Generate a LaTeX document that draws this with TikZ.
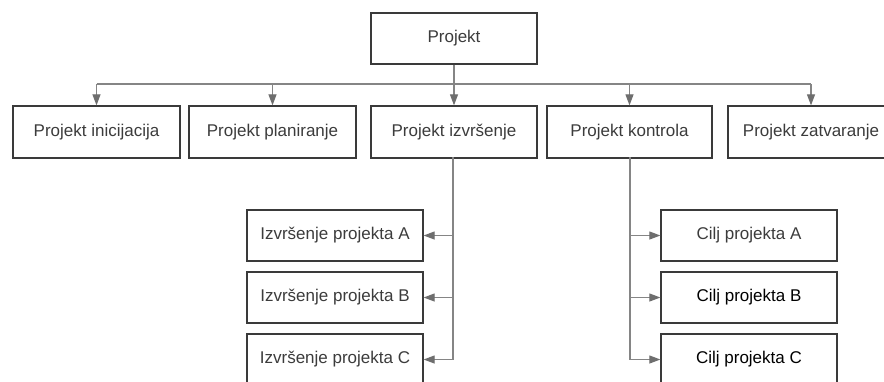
\documentclass[tikz,border=0pt]{standalone}
\usepackage{fontspec}
\setmainfont{Liberation Sans}
\usetikzlibrary{arrows.meta}
\definecolor{boxline}{HTML}{3A3A3A}
\definecolor{txt}{HTML}{3C3C3C}
\definecolor{conn}{HTML}{858585}
\definecolor{tipc}{HTML}{6E6E6E}
\tikzset{
  wbs/.style={draw=boxline, line width=1.3bp, fill=white, text=txt,
    minimum height=51bp, inner sep=0pt,
    font=\fontsize{17bp}{20bp}\selectfont},
  connline/.style={draw=conn, line width=1.1bp},
  connarrow/.style={connline, -{Triangle[length=11bp, width=8bp, fill=tipc, color=tipc]}},
}
\begin{document}
\begin{tikzpicture}[x=1bp, y=-1bp]
\useasboundingbox (0,0) rectangle (884,381);
\clip (0,0) rectangle (884,381);
\fill[white] (0,0) rectangle (884,381);
% top
\node[wbs, minimum width=166bp] (p) at (454,38.5) {Projekt};
% level 1
\node[wbs, minimum width=167bp, minimum height=52bp] (b1) at (96.5,132) {Projekt inicijacija};
\node[wbs, minimum width=167bp, minimum height=52bp] (b2) at (272.5,132) {Projekt planiranje};
\node[wbs, minimum width=166bp, minimum height=52bp] (b3) at (454,132) {Projekt izvršenje};
\node[wbs, minimum width=165bp, minimum height=52bp] (b4) at (629.5,132) {Projekt kontrola};
\node[wbs, minimum width=166bp, minimum height=52bp] (b5) at (811,132) {Projekt zatvaranje};
% level 2 left
\node[wbs, minimum width=176bp] (ia) at (335,235.5) {Izvršenje projekta A};
\node[wbs, minimum width=176bp] (ib) at (335,297.5) {Izvršenje projekta B};
\node[wbs, minimum width=176bp] (ic) at (335,359.5) {Izvršenje projekta C};
% level 2 right
\node[wbs, minimum width=176bp] (ca) at (749,235.5) {Cilj projekta A};
\node[wbs, minimum width=176bp, text=black] (cb) at (749,297.5) {Cilj projekta B};
\node[wbs, minimum width=176bp, text=black] (cc) at (749,359.5) {Cilj projekta C};
% bus
\coordinate (bus) at (454,84);
\draw[connline] (p.south) -- (bus);
\draw[connline] (b1.north |- bus) -- (b5.north |- bus);
\foreach \b in {b1,b2,b3,b4,b5}
  \draw[connarrow] (\b.north |- bus) -- (\b.north);
% left trunk
\coordinate (lt) at (453,157);
\draw[connline] (lt) -- (lt |- ic.east);
\foreach \c in {ia,ib,ic}
  \draw[connarrow] (lt |- \c.east) -- (\c.east);
% right trunk
\coordinate (rt) at (630,157);
\draw[connline] (rt) -- (rt |- cc.west);
\foreach \c in {ca,cb,cc}
  \draw[connarrow] (rt |- \c.west) -- (\c.west);
\end{tikzpicture}
\end{document}
